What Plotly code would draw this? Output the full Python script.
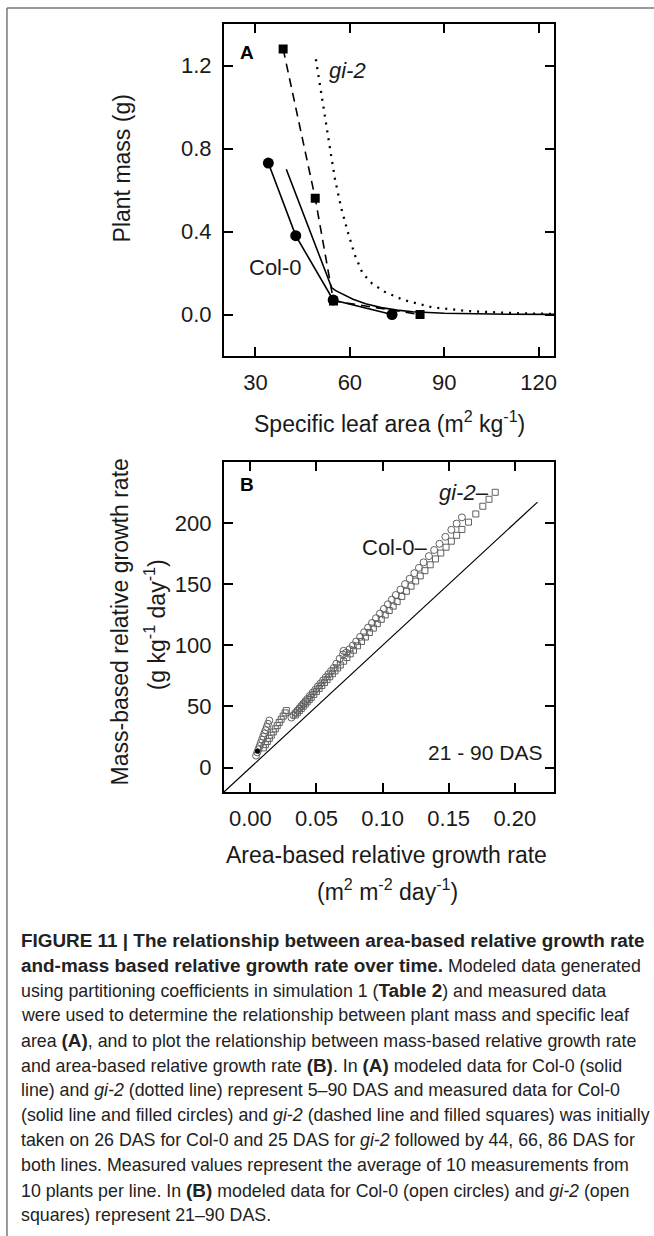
import plotly.graph_objects as go

W, H = 654, 1236

# ---------------- Panel A data ----------------
sla_col0_model = [39.8, 47.0, 54.2, 55.5, 58.0, 61.0, 65.0, 70.0, 75.0, 80.0, 90.0, 100.0, 110.0, 125.0]
mass_col0_model = [0.70, 0.415, 0.13, 0.115, 0.095, 0.074, 0.052, 0.033, 0.021, 0.013, 0.006, 0.003, 0.0015, 0.0005]
sla_gi2_model = [49.2, 50.5, 52.2, 53.8, 55.3, 57.3, 59.5, 61.5, 64.0, 67.0, 71.0, 77.0, 86.0, 98.0, 113.0, 125.0]
mass_gi2_model = [1.23, 1.10, 0.94, 0.79, 0.65, 0.51, 0.39, 0.29, 0.20, 0.15, 0.11, 0.07, 0.035, 0.016, 0.006, 0.003]
sla_col0_meas = [34.1, 42.8, 54.7, 73.4]
mass_col0_meas = [0.73, 0.38, 0.07, 0.0]
sla_gi2_meas = [38.8, 49.0, 54.8, 82.3]
mass_gi2_meas = [1.28, 0.56, 0.065, 0.0]
a_xticks = [30, 60, 90, 120]
a_yticks = [0.0, 0.4, 0.8, 1.2]
a_yticklabels = ["0.0", "0.4", "0.8", "1.2"]

# ---------------- Panel B data ----------------
ref_rgr_area = [-0.02, 0.2172]
ref_rgr_mass = [-20.0, 217.2]

col0_rgr_area = [0.0043, 0.0052, 0.0061, 0.0070, 0.0079, 0.0088, 0.0097, 0.0106, 0.0115, 0.0124, 0.0133, 0.0143,
                 0.031, 0.0325, 0.034, 0.0355, 0.037, 0.0385, 0.040, 0.0415, 0.043, 0.045, 0.047, 0.049,
                 0.051, 0.053, 0.055, 0.057, 0.059, 0.061, 0.063, 0.065, 0.0675, 0.070, 0.0705, 0.0725,
                 0.075, 0.0775, 0.080, 0.083, 0.086, 0.089, 0.092, 0.095, 0.098, 0.101, 0.104, 0.107,
                 0.110, 0.1135, 0.117, 0.1205, 0.124, 0.1275, 0.131, 0.135, 0.139, 0.143, 0.1475, 0.152,
                 0.156, 0.160]
col0_rgr_mass = [9.8, 12.4, 15.0, 17.6, 20.2, 22.8, 25.4, 28.0, 30.6, 33.2, 35.8, 38.5,
                 40.9, 42.8, 44.7, 46.6, 48.5, 50.4, 52.3, 54.2, 56.1, 58.7, 61.2, 63.7,
                 66.3, 68.8, 71.4, 73.9, 76.4, 79.0, 81.5, 85.0, 89.0, 92.5, 95.5, 94.0,
                 96.8, 99.9, 103.1, 106.9, 110.7, 114.5, 118.3, 122.2, 126.0, 129.8, 133.6, 137.4,
                 141.2, 145.6, 150.1, 154.5, 159.0, 163.4, 167.9, 173.0, 178.0, 183.1, 188.8, 194.5,
                 199.6, 204.7]

gi2_rgr_area = [0.0098, 0.0113, 0.0128, 0.0143, 0.0158, 0.0173, 0.0188, 0.0203, 0.0218, 0.0233, 0.0248, 0.0263, 0.0272,
                0.034, 0.0355, 0.037, 0.0385, 0.040, 0.0415, 0.043, 0.0445, 0.046, 0.048, 0.050, 0.052,
                0.054, 0.056, 0.058, 0.060, 0.062, 0.064, 0.066, 0.068, 0.0705, 0.073, 0.0755, 0.078,
                0.081, 0.084, 0.087, 0.090, 0.093, 0.096, 0.099, 0.102, 0.105, 0.108, 0.111, 0.1145,
                0.118, 0.1215, 0.125, 0.1285, 0.132, 0.136, 0.140, 0.144, 0.148, 0.152, 0.156, 0.160,
                0.165, 0.1705, 0.1758, 0.1805, 0.1852]
gi2_rgr_mass = [16.1, 18.7, 21.3, 23.9, 26.5, 29.1, 31.7, 34.3, 36.9, 39.5, 42.1, 44.7, 46.6,
                43.0, 44.8, 46.6, 48.4, 50.2, 52.0, 53.8, 55.6, 57.4, 59.8, 62.3, 64.7,
                67.1, 69.5, 71.9, 74.3, 76.7, 79.1, 81.5, 83.9, 87.0, 90.0, 93.0, 96.0,
                99.6, 103.2, 106.8, 110.5, 114.1, 117.7, 121.3, 124.9, 128.5, 132.1, 135.8, 140.0,
                144.2, 148.4, 152.6, 156.8, 161.1, 165.9, 170.7, 175.5, 180.3, 185.2, 190.0, 194.8,
                200.8, 207.5, 213.8, 219.5, 225.2]
start_rgr_area = [0.0053]
start_rgr_mass = [13.3]

b_xticks = [0.0, 0.05, 0.10, 0.15, 0.20]
b_xticklabels = ["0.00", "0.05", "0.10", "0.15", "0.20"]
b_yticks = [0, 50, 100, 150, 200]

caption_lines = [
    "<b>FIGURE 11 | The relationship between area-based relative growth rate</b>",
    "<b>and-mass based relative growth rate over time.</b> Modeled data generated",
    "using partitioning coefficients in simulation 1 (<b>Table 2</b>) and measured data",
    "were used to determine the relationship between plant mass and specific leaf",
    "area <b>(A)</b>, and to plot the relationship between mass-based relative growth rate",
    "and area-based relative growth rate <b>(B)</b>. In <b>(A)</b> modeled data for Col-0 (solid",
    "line) and <i>gi-2</i> (dotted line) represent 5–90 DAS and measured data for Col-0",
    "(solid line and filled circles) and <i>gi-2</i> (dashed line and filled squares) was initially",
    "taken on 26 DAS for Col-0 and 25 DAS for <i>gi-2</i> followed by 44, 66, 86 DAS for",
    "both lines. Measured values represent the average of 10 measurements from",
    "10 plants per line. In <b>(B)</b> modeled data for Col-0 (open circles) and <i>gi-2</i> (open",
    "squares) represent 21–90 DAS.",
]

FONT = "Liberation Sans, Arial, Helvetica, sans-serif"


def px(x):
    return x / W


def py(y):
    return 1 - y / H


fig = go.Figure()

# Panel A traces
fig.add_trace(go.Scatter(x=sla_gi2_model, y=mass_gi2_model, mode="lines",
                         line=dict(color="black", width=2.3, dash="2px,6px"),
                         xaxis="x", yaxis="y"))
fig.add_trace(go.Scatter(x=sla_col0_model, y=mass_col0_model, mode="lines",
                         line=dict(color="black", width=1.6),
                         xaxis="x", yaxis="y"))
fig.add_trace(go.Scatter(x=sla_gi2_meas, y=mass_gi2_meas, mode="lines+markers",
                         line=dict(color="black", width=1.6, dash="9px,6px"),
                         marker=dict(symbol="square", size=9, color="black"),
                         xaxis="x", yaxis="y"))
fig.add_trace(go.Scatter(x=sla_col0_meas, y=mass_col0_meas, mode="lines+markers",
                         line=dict(color="black", width=1.6),
                         marker=dict(symbol="circle", size=11, color="black"),
                         xaxis="x", yaxis="y"))

# Panel B traces
fig.add_trace(go.Scatter(x=ref_rgr_area, y=ref_rgr_mass, mode="lines",
                         line=dict(color="black", width=1.2),
                         xaxis="x2", yaxis="y2"))
fig.add_trace(go.Scatter(x=gi2_rgr_area, y=gi2_rgr_mass, mode="markers",
                         marker=dict(symbol="square-open", size=6, color="#606060",
                                     line=dict(width=1, color="#606060")),
                         xaxis="x2", yaxis="y2"))
fig.add_trace(go.Scatter(x=col0_rgr_area, y=col0_rgr_mass, mode="markers",
                         marker=dict(symbol="circle-open", size=7, color="#606060",
                                     line=dict(width=1, color="#606060")),
                         xaxis="x2", yaxis="y2"))
fig.add_trace(go.Scatter(x=start_rgr_area, y=start_rgr_mass, mode="markers",
                         marker=dict(symbol="circle", size=5, color="black"),
                         xaxis="x2", yaxis="y2"))

axis_common = dict(showline=True, linewidth=2, linecolor="black", mirror="ticks",
                   ticks="inside", ticklen=9, tickwidth=1.5, tickcolor="black",
                   showgrid=False, zeroline=False,
                   tickfont=dict(family=FONT, size=22, color="#1a1a1a"))

xdom = [px(225), px(557)]
fig.update_layout(
    xaxis=dict(domain=xdom, range=[20, 125], tickvals=a_xticks, anchor="y",
               ticklabelstandoff=6, **axis_common),
    yaxis=dict(domain=[py(356), py(24)], range=[-0.2, 1.4], tickvals=a_yticks,
               ticktext=a_yticklabels, anchor="x", ticklabelstandoff=6, **axis_common),
    xaxis2=dict(domain=xdom, range=[-0.02, 0.23], tickvals=b_xticks, ticktext=b_xticklabels,
                anchor="y2", ticklabelstandoff=6, **axis_common),
    yaxis2=dict(domain=[py(792), py(462)], range=[-20, 250], tickvals=b_yticks,
                anchor="x2", ticklabelstandoff=6, **axis_common),
)

ann = []


def text(x, y, s, size=22, xanchor="center", angle=0, color="#1a1a1a"):
    ann.append(dict(x=px(x), y=py(y), xref="paper", yref="paper", text=s, showarrow=False,
                    xanchor=xanchor, yanchor="middle", textangle=angle,
                    font=dict(family=FONT, size=size, color=color)))


# Panel A labels
text(248, 52, "<b>A</b>", size=19, color="black")
text(349, 70, "<i>gi-2</i>", size=22)
text(277, 267, "Col-0", size=22)
text(123, 168, "Plant mass (g)", size=23, angle=-90)
text(391, 422, "Specific leaf area (m<sup>2</sup> kg<sup>-1</sup>)", size=23)

# Panel B labels
text(248, 485, "<b>B</b>", size=19, color="black")
text(493, 492, "<i>gi-2</i>–", size=22, xanchor="right")
text(432, 548, "Col-0–", size=22, xanchor="right")
text(487, 753, "21 - 90 DAS", size=21)
text(121, 622, "Mass-based relative growth rate", size=23, angle=-90)
text(156, 625, "(g kg<sup>-1</sup> day<sup>-1</sup>)", size=23, angle=-90)
text(388, 855, "Area-based relative growth rate", size=23)
text(389, 890, "(m<sup>2</sup> m<sup>-2</sup> day<sup>-1</sup>)", size=23)

# Caption
BOLD_OPEN = '<span style="font-size:18.9px"><b>'
BOLD_CLOSE = '</b></span>'
for i, line in enumerate(caption_lines):
    styled = line.replace("<b>", BOLD_OPEN).replace("</b>", BOLD_CLOSE)
    text(19, 940 + 25 * i, styled, size=17.8, xanchor="left", color="#222222")

fig.update_layout(
    annotations=ann,
    shapes=[
        dict(type="line", xref="paper", yref="paper", x0=px(7), x1=px(660), y0=py(8), y1=py(8),
             line=dict(color="#777777", width=1.5)),
        dict(type="line", xref="paper", yref="paper", x0=px(7), x1=px(7), y0=py(8), y1=py(1240),
             line=dict(color="#777777", width=1.5)),
    ],
    width=W, height=H, autosize=False,
    margin=dict(l=0, r=0, t=0, b=0),
    showlegend=False,
    plot_bgcolor="white", paper_bgcolor="white",
    font=dict(family=FONT),
)

fig.write_html("out.html", config={"displayModeBar": False},
               post_script="document.body.style.margin='0';")
